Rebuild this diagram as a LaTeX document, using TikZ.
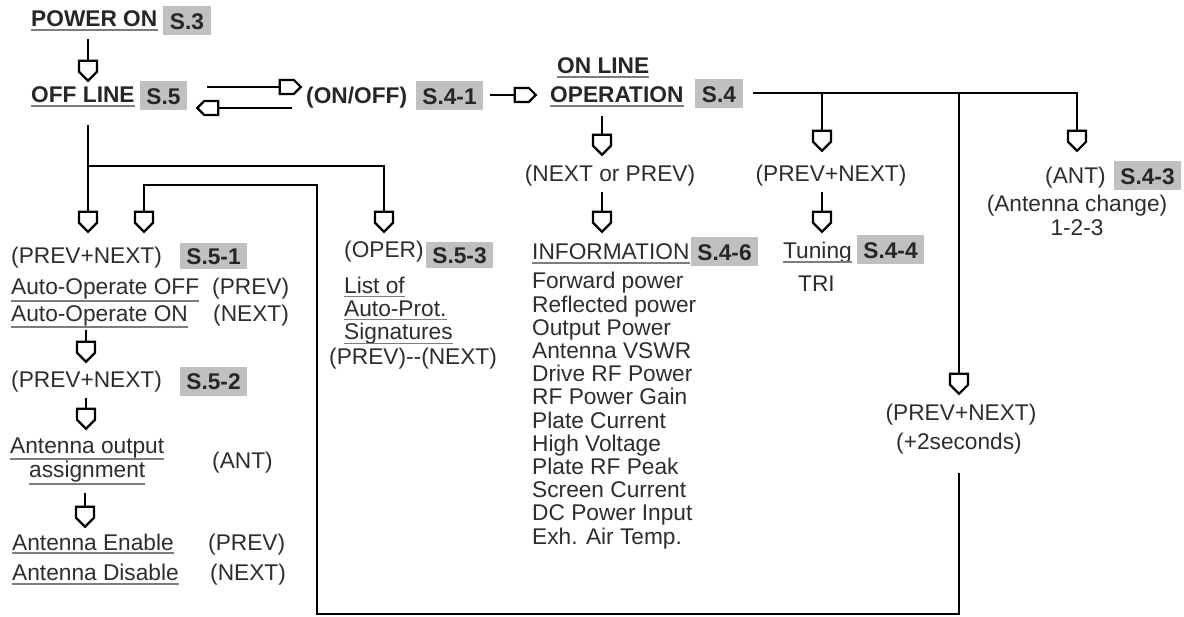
\documentclass[tikz,border=0pt]{standalone}
\usepackage{fontspec}
\setmainfont{Liberation Sans}
\usetikzlibrary{arrows.meta}
\definecolor{txtc}{RGB}{45,45,45}
\definecolor{boxc}{RGB}{192,192,192}
\definecolor{ulc}{RGB}{125,125,125}
\pgfdeclarearrow{
  name = House,
  setup code = {
    \pgfarrowssettipend{1.2pt}
    \pgfarrowssetlineend{-19pt}
    \pgfarrowssetbackend{-21.2pt}
    \pgfarrowsupperhullpoint{-20pt}{9pt}
    \pgfarrowsupperhullpoint{1.2pt}{0pt}
  },
  drawing code = {
    \pgfsetdash{}{0pt}
    \pgfsetmiterjoin
    \pgfsetlinewidth{2.2pt}
    \pgfpathmoveto{\pgfpoint{0pt}{0pt}}
    \pgfpathlineto{\pgfpoint{-9pt}{9pt}}
    \pgfpathlineto{\pgfpoint{-20pt}{9pt}}
    \pgfpathlineto{\pgfpoint{-20pt}{-9pt}}
    \pgfpathlineto{\pgfpoint{-9pt}{-9pt}}
    \pgfpathclose
    \pgfsetfillcolor{white}
    \pgfusepathqfillstroke
  }
}
\pgfdeclarearrow{
  name = HouseS,
  setup code = {
    \pgfarrowssettipend{1.2pt}
    \pgfarrowssetlineend{-20pt}
    \pgfarrowssetbackend{-22.2pt}
    \pgfarrowsupperhullpoint{-21pt}{7pt}
    \pgfarrowsupperhullpoint{1.2pt}{0pt}
  },
  drawing code = {
    \pgfsetdash{}{0pt}
    \pgfsetmiterjoin
    \pgfsetlinewidth{2.2pt}
    \pgfpathmoveto{\pgfpoint{0pt}{0pt}}
    \pgfpathlineto{\pgfpoint{-7pt}{7pt}}
    \pgfpathlineto{\pgfpoint{-21pt}{7pt}}
    \pgfpathlineto{\pgfpoint{-21pt}{-7pt}}
    \pgfpathlineto{\pgfpoint{-7pt}{-7pt}}
    \pgfpathclose
    \pgfsetfillcolor{white}
    \pgfusepathqfillstroke
  }
}
\tikzset{
  txt/.style={font=\fontsize{22.7}{23.2}\selectfont, text=txtc, inner sep=0pt, anchor=base west},
  bld/.style={txt, font=\fontsize{22.7}{23.2}\selectfont\bfseries, text=black!85},
  sbox/.style={fill=boxc, text=black!85, font=\fontsize{22.7}{23.2}\selectfont\bfseries,
    inner xsep=6.5pt, inner ysep=0pt, minimum height=29pt, text height=16.3pt, text depth=0pt, anchor=center},
  ul/.style={draw=ulc, line width=1.3pt},
  wire/.style={line width=2.4pt, black, line join=miter},
  conn/.style={wire, -{House}},
  conns/.style={wire, -{HouseS}}
}
\newcommand{\ulin}[2][3]{\draw[ul] ([yshift=-#1pt]#2.base west) -- ([yshift=-#1pt]#2.base east);}
\begin{document}
\begin{tikzpicture}[x=1pt,y=-1pt]
\useasboundingbox (0,0) rectangle (1184,617);
% ---- top row
\node[bld] (pwr) at (31,27) {POWER ON};
\node[sbox] (s3) at (187,21) {S.3};
\node[bld] (off) at (31,103) {OFF LINE};
\node[sbox] (s5) at (163.5,96) {S.5};
\node[bld] (onoff) at (306,104) {(ON/OFF)};
\node[sbox] (s41) at (449.5,96) {S.4-1};
\node[bld] (online) at (557,74) {ON LINE};
\node[bld] (oper) at (550,103) {OPERATION};
\node[sbox] (s4) at (719,94) {S.4};
\ulin{pwr}\ulin{off}\ulin{online}\ulin{oper}
% ---- left column
\node[txt] (pn1) at (11,264) {(PREV+NEXT)};
\node[sbox, minimum height=26pt] (s51) at (213.5,256) {S.5-1};
\node[txt] (aoff) at (11,295) {Auto-Operate OFF};
\node[txt] (prev1) at (212,295) {(PREV)};
\node[txt] (aon) at (11,322) {Auto-Operate ON};
\node[txt] (next1) at (213,322) {(NEXT)};
\node[txt] (pn2) at (11,388) {(PREV+NEXT)};
\node[sbox] (s52) at (213.5,381.5) {S.5-2};
\node[txt] (aout1) at (10,454) {Antenna output};
\node[txt] (aout2) at (29,478) {assignment};
\node[txt] (ant1) at (212,469) {(ANT)};
\node[txt] (aen) at (12,550) {Antenna Enable};
\node[txt] (prev2) at (208,550) {(PREV)};
\node[txt] (adis) at (12,580) {Antenna Disable};
\node[txt] (next2) at (210,580) {(NEXT)};
\ulin[6]{aoff}\ulin[5]{aon}\ulin[5]{aout1}\ulin[6]{aout2}\ulin{aen}\ulin[4]{adis}
% ---- middle column
\node[txt] (opr) at (344,258) {(OPER)};
\node[sbox, minimum height=26pt] (s53) at (459.5,255.5) {S.5-3};
\node[txt] (lst1) at (344,294) {List of};
\node[txt] (lst2) at (344,317) {Auto-Prot.};
\node[txt] (lst3) at (344,340) {Signatures};
\node[txt] (pn3) at (329,365) {(PREV)-{}-(NEXT)};
\ulin[2.5]{lst1}\ulin[2.5]{lst2}\ulin[3.5]{lst3}
% ---- information column
\node[txt, anchor=base] (nop) at (610,182) {(NEXT or PREV)};
\node[txt] (info) at (532,260) {INFORMATION};
\node[sbox] (s46) at (724.5,252) {S.4-6};
\ulin{info}
\foreach \t [count=\i from 0] in {Forward power, Reflected power, Output Power, Antenna VSWR,
  Drive RF Power, RF Power Gain, Plate Current, High Voltage, Plate RF Peak,
  Screen Current, DC Power Input, Exh. Air Temp.}
  \node[txt] (it\i) at (532,289+23.2*\i) {\t};
% ---- tuning column
\node[txt, anchor=base] (pn4) at (831,182) {(PREV+NEXT)};
\node[txt] (tun) at (783,259) {Tuning};
\node[sbox] (s44) at (890.5,250) {S.4-4};
\node[txt] (tri) at (798,292) {TRI};
\ulin{tun}
% ---- antenna column
\node[txt] (ant2) at (1045,184) {(ANT)};
\node[sbox] (s43) at (1147.5,176) {S.4-3};
\node[txt, anchor=base] (achg) at (1077,212) {(Antenna change)};
\node[txt, anchor=base] (n123) at (1077,236) {1-2-3};
% ---- long press
\node[txt, anchor=base] (pn5) at (961,421) {(PREV+NEXT)};
\node[txt, anchor=base] (sec) at (959,450) {(+2seconds)};
% ---- coordinates for connectors
\coordinate (a0s) at (88,39);   \coordinate (a0e) at (88,82);
\coordinate (r1s) at (207,87);  \coordinate (r1e) at (302,87);
\coordinate (l1s) at (292,108); \coordinate (l1e) at (196,108);
\coordinate (r2s) at (490,95);  \coordinate (r2e) at (537,95);
\coordinate (d0s) at (88,125);  \coordinate (d0e) at (88,233);
\coordinate (b0) at (88,166);   \coordinate (b1) at (384,166); \coordinate (b1e) at (384,233);
\coordinate (d1s) at (86,330);  \coordinate (d1e) at (86,363);
\coordinate (d2s) at (86,398);  \coordinate (d2e) at (86,430);
\coordinate (d3s) at (85,493);  \coordinate (d3e) at (85,528);
\coordinate (o1s) at (602,116); \coordinate (o1e) at (602,156);
\coordinate (o2s) at (602,192); \coordinate (o2e) at (602,233);
\coordinate (h0) at (753,93);   \coordinate (h1) at (822,93); \coordinate (h2) at (959,93); \coordinate (h3) at (1077,93);
\coordinate (h1e) at (822,152); \coordinate (h2e) at (959,395); \coordinate (h3e) at (1077,152);
\coordinate (t1s) at (822,192); \coordinate (t1e) at (822,233);
\coordinate (q0) at (959,473);  \coordinate (q1) at (959,614); \coordinate (q2) at (317,614);
\coordinate (q3) at (317,185);  \coordinate (q4) at (144,185);  \coordinate (q5) at (144,233);
% ---- connectors
\draw[conn] (a0s) -- (a0e);
\draw[conns] (r1s) -- (r1e);
\draw[conns] (l1s) -- (l1e);
\draw[conns] (r2s) -- (r2e);
\draw[conn] (d0s) -- (d0e);
\draw[conn] (b0) -- (b1) -- (b1e);
\draw[conn] (d1s) -- (d1e);
\draw[conn] (d2s) -- (d2e);
\draw[conn] (d3s) -- (d3e);
\draw[conn] (o1s) -- (o1e);
\draw[conn] (o2s) -- (o2e);
\draw[conn] (h0) -- (h3) -- (h3e);
\draw[conn] (h1) -- (h1e);
\draw[conn] (h2) -- (h2e);
\draw[conn] (t1s) -- (t1e);
\draw[conn] (q0) -- (q1) -- (q2) -- (q3) -- (q4) -- (q5);
\end{tikzpicture}
\end{document}
